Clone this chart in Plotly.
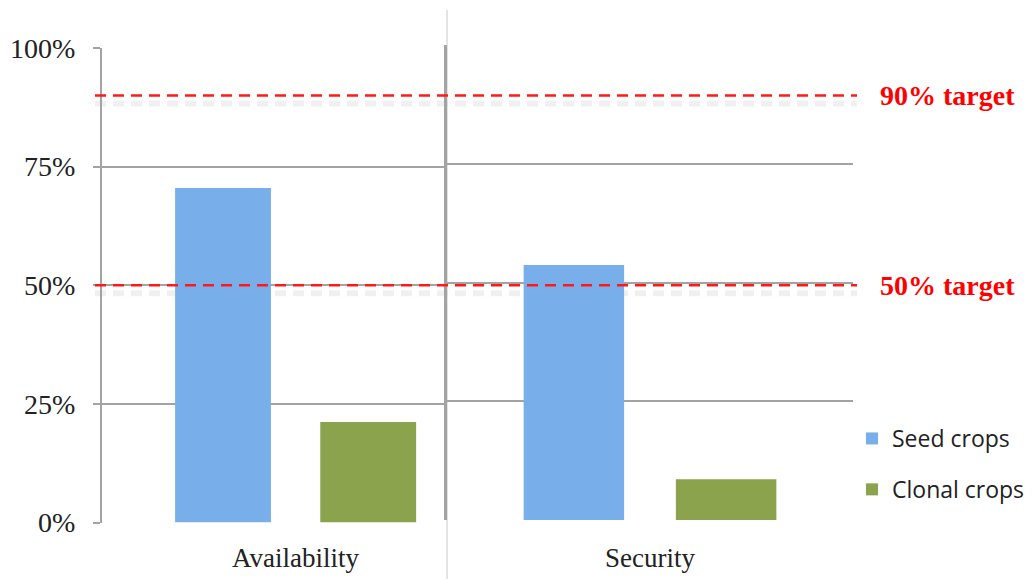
import plotly.graph_objects as go

# ---- data ----
categories = ["Availability", "Security"]
series_names = ["Seed crops", "Clonal crops"]
seed_values = [70.5, 53.7]
clonal_values = [21.2, 8.6]
target_values = [90, 50]
target_labels = ["90% target", "50% target"]
ytick_vals = [0, 25, 50, 75, 100]
ytick_text = ["0%", "25%", "50%", "75%", "100%"]

W, H = 1032, 579
SEED_COLOR = "#78aeea"
CLONAL_COLOR = "#8aa34c"
GRID = "#a3a3a3"
SERIF = "Liberation Serif"

fig = go.Figure()

axes = [("x", "y"), ("x2", "y2")]
for i, (xa, ya) in enumerate(axes):
    fig.add_trace(go.Bar(
        x=[categories[i]], y=[seed_values[i]], xaxis=xa, yaxis=ya,
        name=series_names[0], legendgroup="seed", showlegend=(i == 0),
        marker=dict(color=SEED_COLOR, line=dict(width=0)),
    ))
    fig.add_trace(go.Bar(
        x=[categories[i]], y=[clonal_values[i]], xaxis=xa, yaxis=ya,
        name=series_names[1], legendgroup="clonal", showlegend=(i == 0),
        marker=dict(color=CLONAL_COLOR, line=dict(width=0)),
    ))

shapes = []
annotations = []
for val, lab in zip(target_values, target_labels):
    # soft shadow below the dashed line
    shapes.append(dict(
        type="line", xref="paper", yref="y", x0=95 / W, x1=857 / W,
        ysizemode="pixel", yanchor=val, y0=-8, y1=-8,
        line=dict(color="rgba(0,0,0,0.06)", width=6, dash="11px,7px"),
        layer="below",
    ))
    shapes.append(dict(
        type="line", xref="paper", yref="y", x0=95 / W, x1=857 / W,
        y0=val, y1=val,
        line=dict(color="#ff1a1a", width=2.5, dash="11px,7px"),
        layer="above",
    ))
    annotations.append(dict(
        xref="paper", yref="y", x=878 / W, y=val, text=lab,
        showarrow=False, xanchor="left", yanchor="middle",
        font=dict(family=SERIF, size=28, color="#ff0000", weight="bold"),
    ))

# thin separator line between the two panels
shapes.append(dict(
    type="line", xref="paper", yref="paper", x0=447 / W, x1=447 / W,
    y0=0, y1=(H - 10) / H, line=dict(color="#c8c8c8", width=1), layer="below",
))

yaxis_common = dict(
    range=[0, 100], tickvals=ytick_vals, ticktext=ytick_text,
    showgrid=True, gridcolor=GRID, gridwidth=2, zeroline=False,
    fixedrange=True, automargin=False,
)

fig.update_layout(
    width=W, height=H,
    margin=dict(l=0, r=0, t=0, b=0, autoexpand=False),
    paper_bgcolor="white", plot_bgcolor="white",
    barmode="group", bargap=0.25, bargroupgap=0.34,
    showlegend=True,
    hovermode=False,
    legend=dict(
        x=852 / W, y=(H - 417) / H, xanchor="left", yanchor="top",
        font=dict(family="Open Sans", size=23, color="#222222"),
        tracegroupgap=18, bgcolor="rgba(0,0,0,0)",
    ),
    xaxis=dict(
        domain=[102 / W, 447 / W], type="category", range=[-0.5, 0.391],
        showgrid=False, zeroline=False, showline=False, ticks="",
        tickfont=dict(family=SERIF, size=27, color="#222222"),
        ticklabelstandoff=16, automargin=False, fixedrange=True,
    ),
    xaxis2=dict(
        domain=[447 / W, 853 / W], type="category", range=[-0.5, 0.5],
        anchor="y2",
        showgrid=False, zeroline=False, showline=False, ticks="",
        tickfont=dict(family=SERIF, size=27, color="#222222"),
        ticklabelstandoff=19, automargin=False, fixedrange=True,
    ),
    yaxis=dict(
        domain=[(H - 522.5) / H, (H - 48) / H], anchor="x",
        showline=True, linecolor=GRID, linewidth=2,
        ticks="outside", ticklen=7, tickwidth=2, tickcolor=GRID,
        tickfont=dict(family=SERIF, size=28, color="#222222"),
        ticklabelstandoff=12,
        **yaxis_common,
    ),
    yaxis2=dict(
        domain=[(H - 520) / H, (H - 45.3) / H], anchor="x2",
        showline=True, linecolor=GRID, linewidth=3,
        ticks="", showticklabels=False,
        **yaxis_common,
    ),
    shapes=shapes,
    annotations=annotations,
)

fig.write_html(
    "out.html",
    config={"displayModeBar": False, "staticPlot": True},
    post_script="document.body.style.margin='0';document.body.style.overflow='hidden';",
)
